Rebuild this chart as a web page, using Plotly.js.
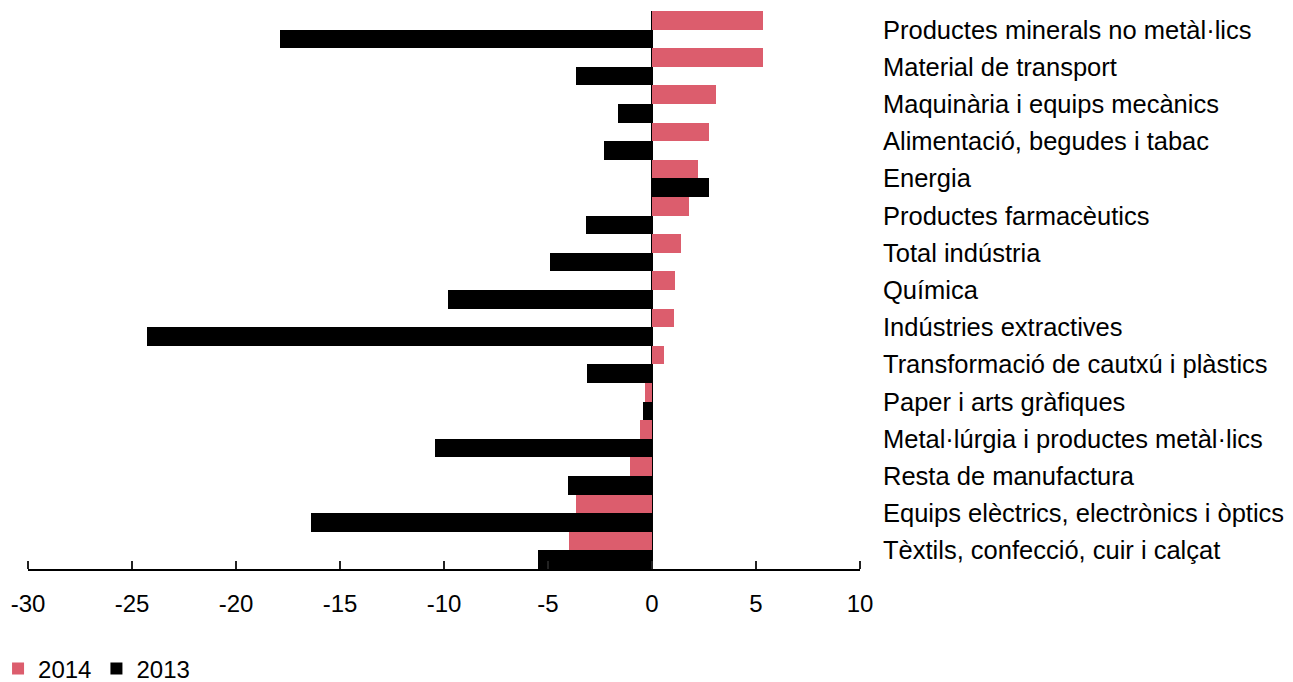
<!DOCTYPE html>
<html>
<head>
<meta charset="utf-8">
<script src="https://cdn.plot.ly/plotly-3.0.1.min.js"></script>
<style>
  html, body { margin: 0; padding: 0; background: #ffffff; }
  #chart { width: 1293px; height: 682px; }
</style>
</head>
<body>
<div id="chart"></div>
<script>
// Sectors of industry, listed top to bottom
const sectors = [
  "Productes minerals no metàl·lics",
  "Material de transport",
  "Maquinària i equips mecànics",
  "Alimentació, begudes i tabac",
  "Energia",
  "Productes farmacèutics",
  "Total indústria",
  "Química",
  "Indústries extractives",
  "Transformació de cautxú i plàstics",
  "Paper i arts gràfiques",
  "Metal·lúrgia i productes metàl·lics",
  "Resta de manufactura",
  "Equips elèctrics, electrònics i òptics",
  "Tèxtils, confecció, cuir i calçat"
];

// Annual change, %
const values2014 = [5.33, 5.33, 3.07, 2.75, 2.19, 1.76, 1.41, 1.09, 1.07, 0.59, -0.32, -0.59, -1.07, -3.65, -4.0];
const values2013 = [-17.9, -3.65, -1.63, -2.29, 2.75, -3.17, -4.91, -9.81, -24.27, -3.12, -0.43, -10.43, -4.05, -16.4, -5.49];

const xRange = [-30, 10];
const xTicks = [-30, -25, -20, -15, -10, -5, 0, 5, 10];

const FONT = "Liberation Sans, Arial, sans-serif";

const traces = [
  {
    type: "bar",
    orientation: "h",
    name: "2014",
    y: sectors,
    x: values2014,
    marker: { color: "#dc5d6d", line: { width: 0 } },
    hoverinfo: "skip"
  },
  {
    type: "bar",
    orientation: "h",
    name: "2013",
    y: sectors,
    x: values2013,
    marker: { color: "#000000", line: { width: 0 } },
    hoverinfo: "skip"
  },
  // empty trace so the overlay tick axis gets its own subplot
  {
    type: "scatter",
    mode: "markers",
    x: [],
    y: [],
    xaxis: "x2",
    yaxis: "y",
    showlegend: false,
    hoverinfo: "skip"
  }
];

const layout = {
  width: 1293,
  height: 682,
  margin: { l: 28, r: 433, t: 11, b: 113, autoexpand: false },
  paper_bgcolor: "#ffffff",
  plot_bgcolor: "#ffffff",
  font: { family: FONT, color: "#000000", size: 24 },
  barmode: "group",
  bargap: 0,
  bargroupgap: 0,
  showlegend: true,
  legend: {
    orientation: "h",
    x: -0.036,
    xanchor: "left",
    y: -0.179,
    yanchor: "middle",
    font: { family: FONT, size: 24, color: "#000000" },
    bgcolor: "rgba(0,0,0,0)",
    itemclick: false,
    itemdoubleclick: false
  },
  // value axis: baseline, zero line and tick labels
  xaxis: {
    range: xRange,
    tickmode: "array",
    tickvals: xTicks,
    ticktext: xTicks.map(String),
    showgrid: false,
    zeroline: true,
    zerolinecolor: "#000000",
    zerolinewidth: 2,
    showline: true,
    linecolor: "#000000",
    linewidth: 2,
    ticks: "",
    ticklabelstandoff: 12,
    tickfont: { family: FONT, size: 24, color: "#000000" },
    fixedrange: true,
    automargin: false
  },
  // overlay axis on the same baseline, drawing short upward tick marks
  xaxis2: {
    overlaying: "x",
    range: xRange,
    anchor: "free",
    position: 0,
    side: "top",
    tickmode: "array",
    tickvals: xTicks,
    showticklabels: false,
    showgrid: false,
    zeroline: false,
    showline: false,
    ticks: "outside",
    ticklen: 8,
    tickwidth: 1.2,
    tickcolor: "#222222",
    fixedrange: true,
    automargin: false
  },
  yaxis: {
    type: "category",
    autorange: "reversed",
    side: "right",
    showgrid: false,
    zeroline: false,
    showline: false,
    ticks: "",
    ticklabelstandoff: 22,
    tickfont: { family: FONT, size: 25.5, color: "#000000" },
    fixedrange: true,
    automargin: false
  }
};

Plotly.newPlot("chart", traces, layout, { displayModeBar: false, staticPlot: true });
</script>
</body>
</html>
